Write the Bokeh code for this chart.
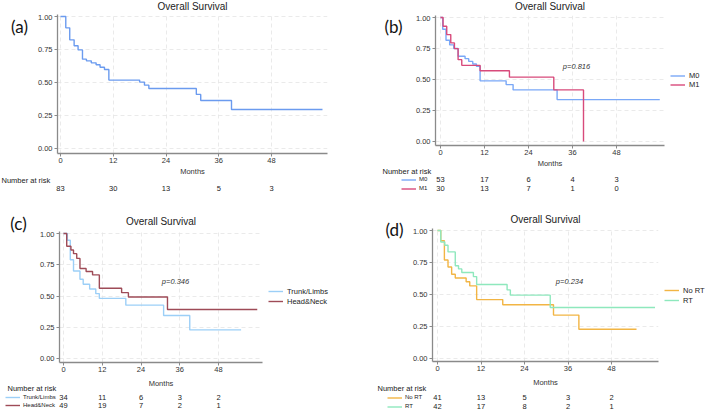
from bokeh.plotting import figure
from bokeh.models import Legend, LegendItem, FixedTicker, NumeralTickFormatter, Range1d
from bokeh.core.properties import value
from bokeh.layouts import column, row
from bokeh.embed import file_html
from bokeh.resources import INLINE

# ---------------- data ----------------
month_ticks = [0, 12, 24, 36, 48]
surv_ticks = [0, 0.25, 0.5, 0.75, 1.0]
risk_months = [0, 12, 24, 36, 48]

# (a) all patients
a_times = [0, 1.2, 2.1, 3.1, 4.0, 5.0, 5.9, 7.0, 8.1, 9.0, 10.0, 11.0, 18.0, 19.1, 20.1, 30.9, 31.9, 38.9, 59.6]
a_surv = [1.0, 0.914, 0.823, 0.778, 0.747, 0.677, 0.664, 0.649, 0.634, 0.616, 0.598, 0.518, 0.503, 0.48, 0.455, 0.41, 0.364, 0.295, 0.295]
a_risk = [83, 30, 13, 5, 3]

# (b) M0 / M1
m0_times = [0, 0.6, 1.5, 2.5, 3.6, 4.8, 6.7, 7.7, 8.8, 9.8, 10.8, 17.9, 19.8, 31.8, 59.8]
m0_surv = [1.0, 0.905, 0.817, 0.779, 0.75, 0.688, 0.668, 0.646, 0.625, 0.606, 0.489, 0.459, 0.416, 0.338, 0.338]
m1_times = [0, 0.7, 1.7, 2.8, 3.8, 4.8, 5.8, 10.8, 18.8, 30.9, 39.0]
m1_surv = [1.0, 0.93, 0.862, 0.795, 0.749, 0.66, 0.614, 0.57, 0.519, 0.416, 0.0]
m0_risk = [53, 17, 6, 4, 3]
m1_risk = [30, 13, 7, 1, 0]
b_pvalue = "p=0.816"

# (c) Trunk/Limbs / Head&Neck
tl_times = [0, 1.2, 2.1, 3.1, 5.1, 6.1, 8.1, 10.0, 11.1, 19.3, 31.0, 39.1, 55.0]
tl_surv = [1.0, 0.946, 0.79, 0.70, 0.634, 0.594, 0.556, 0.519, 0.481, 0.427, 0.344, 0.229, 0.229]
hn_times = [0, 1.0, 2.3, 3.1, 4.1, 5.1, 7.0, 9.0, 11.1, 18.0, 20.1, 32.2, 60.0]
hn_surv = [1.0, 0.898, 0.868, 0.839, 0.801, 0.72, 0.696, 0.669, 0.562, 0.527, 0.492, 0.392, 0.392]
tl_risk = [34, 11, 6, 3, 2]
hn_risk = [49, 19, 7, 2, 1]
c_pvalue = "p=0.346"

# (d) No RT / RT
nr_times = [0, 0.9, 1.9, 2.9, 3.9, 4.9, 7.9, 8.9, 10.8, 18.0, 32.0, 39.0, 54.9]
nr_surv = [1.0, 0.92, 0.77, 0.715, 0.658, 0.629, 0.60, 0.567, 0.46, 0.42, 0.339, 0.229, 0.229]
rt_times = [0, 0.9, 2.0, 2.9, 4.9, 5.8, 6.7, 9.9, 10.8, 19.2, 20.1, 31.1, 60.0]
rt_surv = [1.0, 0.91, 0.885, 0.833, 0.725, 0.70, 0.672, 0.64, 0.578, 0.536, 0.495, 0.398, 0.398]
nr_risk = [41, 13, 5, 3, 2]
rt_risk = [42, 17, 8, 2, 1]
d_pvalue = "p=0.234"

FONT = "Liberation Sans"
QW, QH = 354, 205
TXT = "#222222"


def blank(w, h, xr, yr):
    f = figure(width=w, height=h, x_range=xr, y_range=yr, toolbar_location=None,
               output_backend="svg", title=None, tools="", x_axis_type=None,
               y_axis_type=None, min_border=0)
    f.frame_align = False
    f.outline_line_color = None
    f.background_fill_color = "white"
    f.border_fill_color = "white"
    return f


def txt(f, x, y, s, size="7.5px", align="center", style="normal", font=FONT, color=TXT):
    f.text(x=[x], y=[y], text=[s], text_font=value(font), text_font_size=value(size),
           text_align=align, text_baseline="middle", text_font_style=style,
           text_color=color)


def make_legend(f, series, x, top, rh, size, standoff, off_x, off_y):
    items = []
    for name, _, _, color in series:
        # legend proxy kept outside the visible frame
        r = f.line(x=[off_x, off_x], y=[off_y, off_y], line_color=color, line_width=1.4)
        items.append(LegendItem(label=name, renderers=[r]))
    n = len(series)
    fh = f.height
    leg = Legend(items=items, location=(x, fh - (top + n * rh)), glyph_width=15,
                 glyph_height=rh, label_height=rh, label_width=5, spacing=0, padding=0,
                 margin=0, label_standoff=standoff, border_line_color=None,
                 background_fill_alpha=0, label_text_font=FONT,
                 label_text_font_size=size, label_text_color=TXT)
    f.add_layout(leg)


def make_quadrant(letter, geom, S, main_right, series, risk, pval, pos):
    L, R, T, B, x0pix, x48pix, y1pix, y0pix = geom
    ppm = (x48pix - x0pix) / 48.0
    ppu = float(y0pix - y1pix)
    Hm = B + 14          # bottom of the tick-label area
    Hr = QH - Hm         # risk table height
    Hp = Hm - T          # main plot height (frame + x axis)

    def dx(px):
        return (px - x0pix) / ppm

    def dy(py):
        return (y0pix - py) / ppu

    # ---- title strip ----
    Wt = QW - S
    ts = blank(Wt, T, Range1d(0, Wt), Range1d(T, 0))
    txt(ts, (L + R) / 2.0 - S, pos["title"], "Overall Survival", size="10px")

    # ---- main plot ----
    Wm = main_right - S
    p = figure(width=Wm, height=Hp, x_range=Range1d(dx(L), dx(R)),
               y_range=Range1d(dy(B), dy(T)),
               min_border_left=L - S, min_border_right=main_right - R, min_border_top=0,
               min_border_bottom=Hm - B, toolbar_location=None, output_backend="svg",
               title=None, tools="")
    p.frame_align = False
    p.outline_line_color = None
    p.background_fill_color = "white"
    p.border_fill_color = "white"
    for ax in (p.xaxis[0], p.yaxis[0]):
        ax.axis_line_color = "#8a8a8a"
        ax.axis_line_width = 1.3
        ax.major_tick_line_color = "#8a8a8a"
        ax.major_tick_out = 3
        ax.major_tick_in = 0
        ax.minor_tick_line_color = None
        ax.major_label_text_font = FONT
        ax.major_label_text_font_size = "7.5px"
        ax.major_label_text_color = "#333333"
    p.xaxis[0].ticker = FixedTicker(ticks=month_ticks)
    p.yaxis[0].ticker = FixedTicker(ticks=surv_ticks)
    p.yaxis[0].formatter = NumeralTickFormatter(format="0.00")
    p.yaxis[0].major_label_standoff = 2
    p.xaxis[0].major_label_standoff = 1
    for g in (p.xgrid[0], p.ygrid[0]):
        g.grid_line_color = "#e4e4e4"
        g.grid_line_dash = "4 3"
        g.grid_line_width = 0.8
    for name, times, surv, color in series:
        p.step(x=times, y=surv, mode="after", line_color=color, line_width=1.4)
    if pval:
        px_, py_ = pos["p"]
        txt(p, dx(px_), dy(py_), pval, style="italic", color="#333333")

    # ---- letter strip (full height of the upper part) ----
    ls = blank(S, Hm, Range1d(0, S), Range1d(Hm, 0))
    lx, ly = pos["letter"]
    txt(ls, lx, ly, letter, size="17px", font="Lato", color="#111111")

    plot_row = [p]
    if len(series) > 1:
        Wl = QW - main_right
        lg = blank(Wl, Hp, Range1d(0, Wl), Range1d(Hp, 0))
        gx, gy = pos["legend"]
        rh = pos["legend_row"]
        make_legend(lg, series, gx - main_right, gy - T - rh / 2.0, rh, "7.5px", 4, -100, -100)
        plot_row.append(lg)

    # ---- risk table ----
    rk = blank(QW, Hr, Range1d(dx(0), dx(QW)), Range1d(Hr, 0))
    txt(rk, dx((L + R) / 2.0), pos["months"] - Hm, "Months", color="#333333")
    nx, ny = pos["nar"]
    txt(rk, dx(nx), ny - Hm, "Number at risk", align="left")
    rows = pos["rows"]
    for rowy, counts in zip(rows, risk):
        rk.text(x=risk_months, y=[rowy - Hm] * len(risk_months),
                text=[str(c) for c in counts], text_font=value(FONT),
                text_font_size=value("7.5px"), text_align="center",
                text_baseline="middle", text_color=TXT)
    if len(series) > 1:
        rrh = rows[1] - rows[0]
        make_legend(rk, series, pos["risk_leg_x"], rows[0] - Hm - rrh / 2.0, rrh, "6px", 3,
                    dx(-200), -100)

    upper = row(ls, column(ts, row(*plot_row)))
    return column(upper, rk)


qa = make_quadrant("(a)", (57, 327, 14, 153, 60, 271, 16, 148), 30, 354,
                   [("All", a_times, a_surv, "#6b9bef")], [a_risk], None,
                   {"letter": (19, 26), "title": 6, "months": 171, "nar": (1, 180),
                    "rows": [188]})

qb = make_quadrant("(b)", (81, 310, 15, 145, 86, 262, 17, 141), 50, 312,
                   [("M0", m0_times, m0_surv, "#7aa8f7"), ("M1", m1_times, m1_surv, "#d84a7b")],
                   [m0_risk, m1_risk], b_pvalue,
                   {"letter": (39, 26), "title": 6, "p": (222, 66), "legend": (316, 75),
                    "legend_row": 9, "months": 163, "nar": (28, 171), "rows": [179, 188],
                    "risk_leg_x": 47})

qc = make_quadrant("(c)", (59, 262, 26, 157, 63, 218, 28, 153), 30, 264,
                   [("Trunk/Limbs", tl_times, tl_surv, "#9ccff7"),
                    ("Head&Neck", hn_times, hn_surv, "#9e4b57")],
                   [tl_risk, hn_risk], c_pvalue,
                   {"letter": (18, 18), "title": 16, "p": (175, 76), "legend": (268, 86),
                    "legend_row": 10, "months": 178, "nar": (7, 183), "rows": [192, 200],
                    "risk_leg_x": 5})

qd = make_quadrant("(d)", (78, 304, 23, 156, 83, 257, 25, 153), 50, 306,
                   [("No RT", nr_times, nr_surv, "#f2b544"), ("RT", rt_times, rt_surv, "#8ee8bd")],
                   [nr_risk, rt_risk], d_pvalue,
                   {"letter": (40, 24), "title": 14, "p": (215, 76), "legend": (310, 85),
                    "legend_row": 10, "months": 177, "nar": (23, 183), "rows": [192, 201],
                    "risk_leg_x": 33})

layout = column(row(qa, qb), row(qc, qd))
open("out.html", "w").write(file_html(layout, INLINE))
